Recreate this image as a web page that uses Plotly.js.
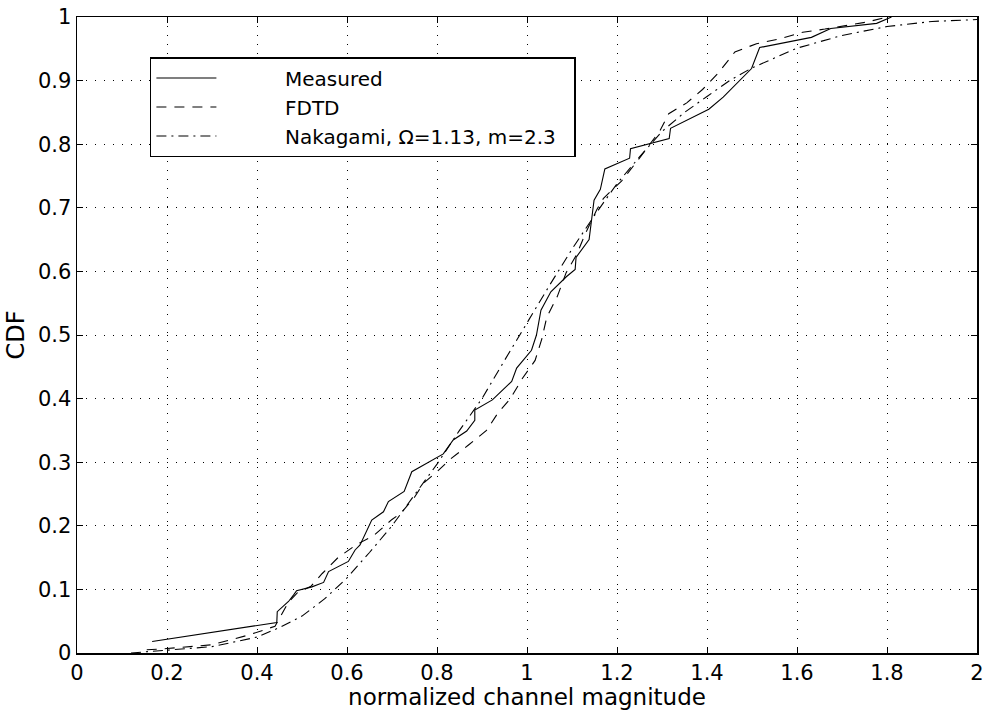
<!DOCTYPE html>
<html>
<head>
<meta charset="utf-8">
<script src="https://cdn.plot.ly/plotly-3.0.1.min.js"></script>
<style>html,body{margin:0;padding:0;background:#fff;}#chart{width:989px;height:710px;}</style>
</head>
<body>
<div id="chart"></div>
<script>
// Measured CDF
const measuredX = [0.167,0.444,0.445,0.47,0.481,0.488,0.522,0.548,0.559,0.603,0.618,0.629,0.655,0.681,0.692,0.727,0.744,0.784,0.814,0.836,0.866,0.884,0.884,0.923,0.966,0.977,1.010,1.021,1.031,1.053,1.088,1.107,1.109,1.138,1.144,1.149,1.163,1.173,1.228,1.230,1.316,1.319,1.404,1.436,1.499,1.517,1.632,1.675,1.777,1.81];
const measuredY = [0.018,0.048,0.065,0.081,0.091,0.098,0.104,0.111,0.128,0.144,0.162,0.170,0.209,0.222,0.238,0.254,0.285,0.301,0.313,0.335,0.349,0.366,0.382,0.398,0.427,0.448,0.476,0.500,0.539,0.568,0.592,0.603,0.622,0.650,0.680,0.712,0.729,0.761,0.778,0.793,0.809,0.825,0.855,0.874,0.919,0.952,0.968,0.982,0.990,1.0];

// FDTD CDF
const fdtdX = [0.155,0.2,0.3,0.38,0.44,0.455,0.47,0.49,0.52,0.545,0.58,0.62,0.66,0.7,0.72,0.75,0.77,0.8,0.83,0.87,0.91,0.935,0.963,0.99,1.018,1.033,1.044,1.067,1.087,1.11,1.13,1.155,1.17,1.21,1.25,1.296,1.315,1.355,1.39,1.425,1.462,1.51,1.558,1.613,1.662,1.755,1.8];
const fdtdY = [0.005,0.007,0.013,0.028,0.042,0.06,0.08,0.095,0.105,0.125,0.15,0.17,0.185,0.21,0.22,0.245,0.267,0.285,0.305,0.327,0.35,0.377,0.4,0.432,0.46,0.494,0.528,0.56,0.598,0.626,0.66,0.697,0.715,0.742,0.778,0.822,0.848,0.865,0.886,0.912,0.945,0.958,0.965,0.976,0.981,0.992,1.0];

// Nakagami fit CDF
const nakX = [0.12,0.2,0.3,0.4,0.45,0.5,0.55,0.6,0.65,0.7,0.75,0.8,0.85,0.9,0.95,1.0,1.05,1.1,1.15,1.2,1.25,1.3,1.35,1.4,1.45,1.5,1.55,1.6,1.7,1.8,1.9,2.0];
const nakY = [0.0,0.004,0.01,0.025,0.04,0.058,0.085,0.118,0.158,0.2,0.248,0.297,0.35,0.4,0.46,0.52,0.578,0.635,0.688,0.738,0.78,0.82,0.85,0.875,0.9,0.92,0.935,0.951,0.971,0.985,0.993,0.996];

const xTicks = [0,0.2,0.4,0.6,0.8,1,1.2,1.4,1.6,1.8,2];
const yTicks = [0,0.1,0.2,0.3,0.4,0.5,0.6,0.7,0.8,0.9,1];

const FONT = 'DejaVu Sans, Liberation Sans, Arial, sans-serif';
const pad = '\u00a0'.repeat(10);
const tail = '\u00a0'.repeat(2);
const traces = [
  {x: measuredX, y: measuredY, mode: 'lines', name: pad + 'Measured', line: {color: '#000', width: 1.1, dash: 'solid'}},
  {x: fdtdX, y: fdtdY, mode: 'lines', name: pad + 'FDTD', line: {color: '#000', width: 1.1, dash: '10px,8px'}},
  {x: nakX, y: nakY, mode: 'lines', name: pad + 'Nakagami, \u03A9=1.13, m=2.3' + tail, line: {color: '#000', width: 1.1, dash: '10px,5px,2px,5px'}}
];

function axis(extra) {
  return Object.assign({
    showline: true, linecolor: '#000', linewidth: 1.5, mirror: 'ticks',
    ticks: 'inside', ticklen: 6, tickcolor: '#000', tickwidth: 1,
    showgrid: true, gridcolor: '#000', gridwidth: 1, griddash: '1px,8px',
    zeroline: false,
    tickfont: {family: FONT, size: 21, color: '#000'}
  }, extra);
}

const layout = {
  width: 989, height: 710,
  margin: {l: 77, r: 12, t: 17, b: 57},
  paper_bgcolor: '#fff', plot_bgcolor: '#fff',
  font: {family: FONT, color: '#000'},
  xaxis: axis({
    range: [0, 2], tickmode: 'array', tickvals: xTicks, ticktext: xTicks.map(String),
    title: {text: 'normalized channel magnitude', font: {family: FONT, size: 23, color: '#000'}, standoff: 6}
  }),
  yaxis: axis({
    range: [0, 1], tickmode: 'array', tickvals: yTicks, ticktext: yTicks.map(String),
    title: {text: 'CDF', font: {family: FONT, size: 24, color: '#000'}, standoff: 6}
  }),
  showlegend: true,
  legend: {
    x: 0.081, y: 0.937, xanchor: 'left', yanchor: 'top',
    bgcolor: '#fff', bordercolor: '#000', borderwidth: 1.5,
    font: {family: FONT, size: 20, color: '#000'},
    itemwidth: 60, tracegroupgap: 0
  }
};

Plotly.newPlot('chart', traces, layout, {displayModeBar: false, staticPlot: true});
</script>
</body>
</html>
